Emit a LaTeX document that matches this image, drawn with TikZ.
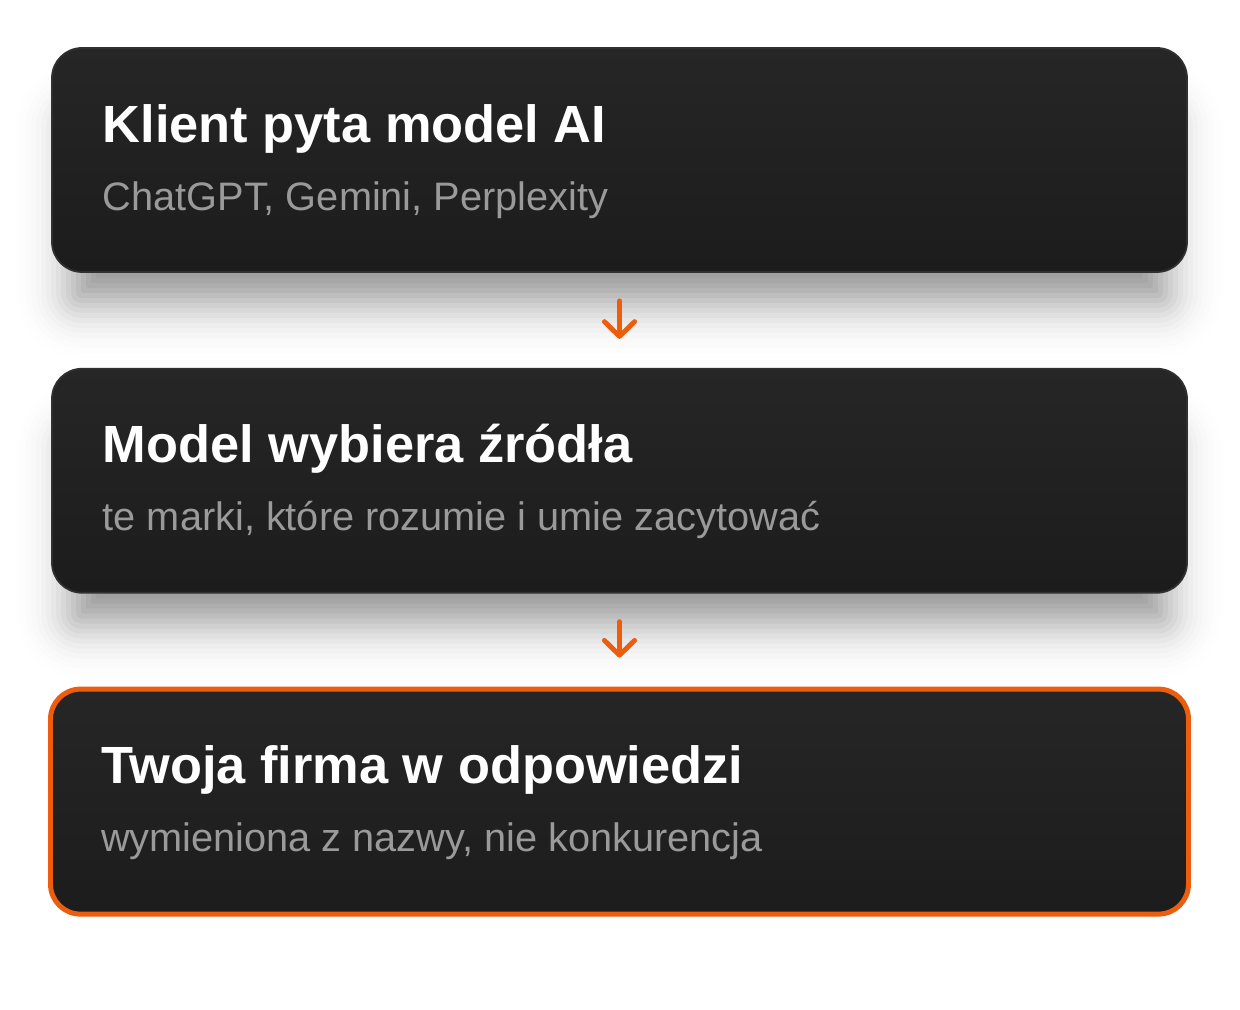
\documentclass[tikz,border=0pt]{standalone}
\usepackage{fontspec}
\setmainfont{Liberation Sans}
\usetikzlibrary{positioning,arrows.meta,backgrounds}

\definecolor{cardtop}{HTML}{262626}
\definecolor{cardbottom}{HTML}{1C1C1C}
\definecolor{cardedge}{HTML}{303030}
\definecolor{accent}{HTML}{EC5E0E}
\definecolor{subgray}{HTML}{9A9A9A}

\tikzset{
  card/.style={rectangle, rounded corners=0.3cm, inner sep=0pt,
    minimum width=11.35cm, minimum height=2.24cm,
    top color=cardtop, bottom color=cardbottom, draw=cardedge, line width=0.5pt},
  cardtitle/.style={anchor=base west, inner sep=0pt, text=white,
    font=\fontsize{14.9}{18}\selectfont\bfseries},
  cardsub/.style={anchor=base west, inner sep=0pt, text=subgray,
    font=\fontsize{11.3}{13}\selectfont},
  flow/.style={draw=accent, line width=1.4pt, line cap=round,
    -{Straight Barb[length=4.2pt,width=8.6pt,round]},
    shorten <=0.28cm, shorten >=0.29cm}
}

\begin{document}
\begin{tikzpicture}
  \useasboundingbox (0,0) rectangle (12.4,10.1);

  % cards
  \node[card] (ask) at (6.195,8.50) {};
  \node[card, below=0.95cm of ask] (pick) {};
  \node[card, draw=accent, line width=1.42pt, minimum width=11.38cm,
        minimum height=2.25cm, below=0.93cm of pick] (answer) {};

  % soft shadows under the first two cards
  \begin{scope}[on background layer]
    \fill[white] (0,0) rectangle (12.4,10.1);
    \foreach \c in {ask,pick}
      \foreach \e in {1.0,0.95,...,-1.02} {
        \pgfmathsetmacro\op{0.042*exp(-(\e/0.4)^2)}
        \pgfmathsetmacro\d{\e-0.3}
        \pgfmathsetmacro\rad{max(0.3+\d,0.02)}
        \pgfmathsetmacro\lo{-0.5-\d}
        \pgfmathsetmacro\hi{-0.5+\d}
        \pgfmathsetmacro\mx{-\d}
        \fill[black, fill opacity=\op, rounded corners=\rad cm]
          ([shift={(\mx,\lo)}]\c.south west) rectangle ([shift={(\d,\hi)}]\c.north east);
      }
  \end{scope}

  % texts
  \node[cardtitle] (ask-title) at ([shift={(0.51,-0.95)}]ask.north west) {Klient pyta model AI};
  \node[cardsub] (ask-sub) at ([shift={(0.51,-1.63)}]ask.north west) {ChatGPT, Gemini, Perplexity};

  \node[cardtitle] (pick-title) at ([shift={(0.51,-0.95)}]pick.north west) {Model wybiera źródła};
  \node[cardsub] (pick-sub) at ([shift={(0.51,-1.63)}]pick.north west) {te marki, które rozumie i umie zacytować};

  \node[cardtitle] (answer-title) at ([shift={(0.525,-0.97)}]answer.north west) {Twoja firma w odpowiedzi};
  \node[cardsub] (answer-sub) at ([shift={(0.525,-1.65)}]answer.north west) {wymieniona z nazwy, nie konkurencja};

  % arrows
  \draw[flow] (ask) -- (pick);
  \draw[flow] (pick) -- (answer);
\end{tikzpicture}
\end{document}
